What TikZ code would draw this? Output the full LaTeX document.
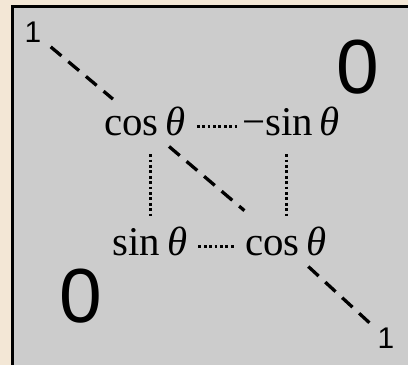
\documentclass[tikz,border=0pt]{standalone}
\usepackage{fontspec}
\usepackage{xcolor}
\usetikzlibrary{positioning}
\newfontfamily\serifrm{Liberation Serif}
\newfontfamily\sansrm{Liberation Sans}
\definecolor{pagebg}{RGB}{243,231,214}
\definecolor{matgray}{RGB}{204,204,204}

\begin{document}
\begin{tikzpicture}[
  x=1bp, y=-1bp,
  entry/.style={inner sep=0pt, font=\fontsize{41}{44}\serifrm, text height=28bp, text depth=10bp},
  unit/.style={inner sep=0pt, font=\fontsize{30}{32}\sansrm},
  zero/.style={inner sep=0pt, font=\fontsize{77}{80}\sansrm},
  diag/.style={line width=3.3bp, dash pattern=on 14bp off 9bp},
  dots/.style={line width=3bp, dash pattern=on 2.8bp off 2.6bp}
]
  \useasboundingbox[fill=pagebg] (0,0) rectangle (408,365);
  \draw[fill=matgray, line width=3bp] (12.5,6) rectangle (420,380);

  % rotation block
  \node[entry, anchor=base] (c11) at (145,135) {cos\,\textit{θ}};
  \node[entry, anchor=base] (c12) at (291,135) {−sin\,\textit{θ}};
  \node[entry, anchor=base] (c21) at (150,255) {sin\,\textit{θ}};
  \node[entry, anchor=base] (c22) at (286,255) {cos\,\textit{θ}};
  \node[unit] (one1) at (33,32) {1};
  \node[unit] (one2) at (386,338) {1};
  \node[zero] (z12) at (358,67) {0};
  \node[zero] (z21) at (81,296) {0};

  % diagonal
  \draw[diag, shorten <=12bp, shorten >=12bp] (one1) -- (c11);
  \draw[diag, shorten <=2bp, shorten >=25bp] (c11) -- (c22);
  \draw[diag, shorten <=2bp, shorten >=11bp] (c22) -- (one2);

  % dotted links
  \draw[dots, shorten <=11bp, shorten >=5bp] (c11) -- (c12);
  \draw[dots, shorten <=11bp, shorten >=10bp] (c21) -- (c22);
  \draw[dots, shorten <=9bp, shorten >=9bp] (c11.south -| c21.north) -- (c21.north);
  \draw[dots, shorten <=9bp, shorten >=9bp] (c12.south -| c22.north) -- (c22.north);
\end{tikzpicture}
\end{document}
